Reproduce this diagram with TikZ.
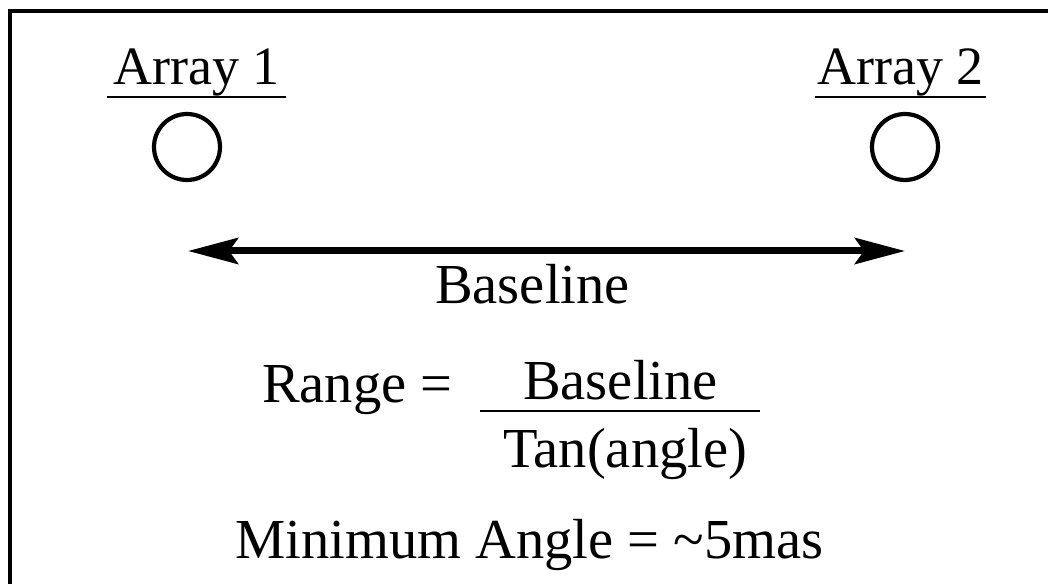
\documentclass[tikz,border=0pt]{standalone}
\usepackage{fontspec}
\setmainfont{Liberation Serif}
\usetikzlibrary{arrows.meta,calc}
\tikzset{
  lbl/.style={inner sep=0pt, font=\fontsize{54bp}{60bp}\selectfont, text=black},
  lblb/.style={inner sep=0pt, font=\fontsize{56.5bp}{62bp}\selectfont, text=black},
  uline/.style={line width=2.2bp},
  array/.style={circle, draw, line width=4.2bp, minimum size=66bp, inner sep=0pt},
  frame/.style={line width=3.2bp},
  arr/.style={line width=7bp, {Stealth[length=50bp,width=26bp,inset=9bp]}-{Stealth[length=50bp,width=26bp,inset=9bp]}},
  fracbar/.style={line width=2.4bp}
}
\begin{document}
\begin{tikzpicture}[x=1bp,y=-1bp]
\useasboundingbox (0,0) rectangle (1048,584);
\clip (0,0) rectangle (1048,584);
\fill[white] (0,0) rectangle (1048,584);
% frame (cut off at right and bottom)
\coordinate (fb) at (10,600);
\coordinate (ftl) at (10,11);
\coordinate (ftr) at (1060,11);
\draw[frame] (fb) -- (ftl) -- (ftr);
% arrays
\node[lbl, anchor=base west] (a1) at (113,85) {Array 1};
\node[lbl, anchor=base west] (a2) at (817,85) {Array 2};
\draw[uline] ($(a1.base west)+(-6,12)$) -- ($(a1.base east)+(6,12)$);
\draw[uline] ($(a2.base west)+(-2,12)$) -- ($(a2.base east)+(2,12)$);
\node[array] (c1) at (187,147) {};
\node[array] (c2) at (905,147) {};
% baseline arrow
\coordinate (bl) at (188,251);
\coordinate (br) at (905,251);
\draw[arr] (bl) -- (br);
\node[lblb, anchor=base west] (blabel) at (435,304) {Baseline};
% range formula
\node[lblb, anchor=base west] (range) at (262,402) {Range =};
\node[lblb, anchor=base west] (num) at (523,399) {Baseline};
\node[lblb, anchor=base west] (den) at (503,467) {Tan(angle)};
\coordinate (barl) at (480,411);
\coordinate (barr) at (760,411);
\draw[fracbar] (barl) -- (barr);
% minimum angle
\node[lblb, anchor=base west] (minang) at (235,558) {Minimum Angle = \char"007E 5mas};
\end{tikzpicture}
\end{document}
